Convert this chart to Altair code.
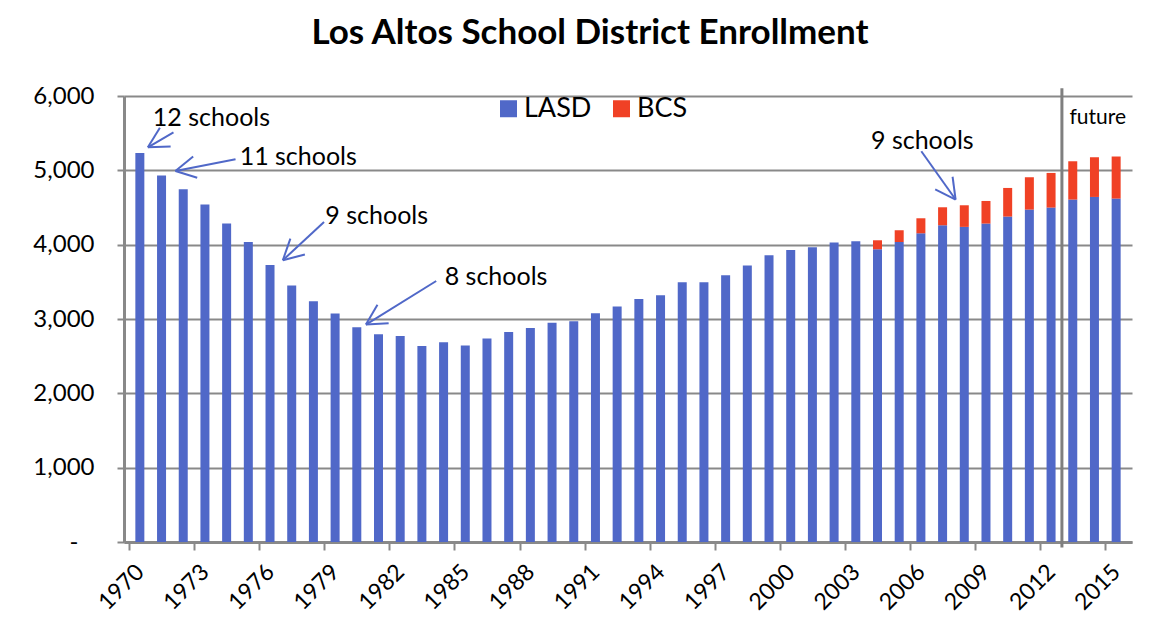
import math
import altair as alt
import pandas as pd

# ---------------- data ----------------
years = list(range(1970, 2016))
lasd = [5234, 4930, 4746, 4540, 4284, 4036, 3727, 3449, 3238, 3073, 2888, 2794,
        2771, 2637, 2686, 2642, 2736, 2825, 2879, 2951, 2969, 3077, 3167, 3269,
        3319, 3494, 3494, 3588, 3719, 3857, 3929, 3965, 4028, 4046, 3938, 4036,
        4153, 4261, 4239, 4284, 4378, 4472, 4499, 4607, 4642, 4620]
bcs_years = [2004, 2005, 2006, 2007, 2008, 2009, 2010, 2011, 2012, 2013, 2014, 2015]
bcs = [121, 158, 202, 242, 291, 304, 385, 435, 466, 515, 534, 566]

label_years = [1970, 1973, 1976, 1979, 1982, 1985, 1988, 1991, 1994, 1997,
               2000, 2003, 2006, 2009, 2012, 2015]
y_ticks = [0, 1000, 2000, 3000, 4000, 5000, 6000]

# annotations (year, enrollment units)
ann_text = ["12 schools", "11 schools", "9 schools", "8 schools", "9 schools"]
ann_x = [1970.6, 1974.6, 1978.55, 1984.05, 2003.7]
ann_y = [5701, 5176, 4382, 3561, 5392]
arrow_tail_x = [1971.55, 1974.41, 1978.49, 1983.66, 2006.02]
arrow_tail_y = [5512, 5149, 4306, 3511, 5257]
arrow_tip_x = [1970.37, 1971.64, 1976.59, 1980.42, 2007.60]
arrow_tip_y = [5310, 4992, 3790, 2925, 4607]

future_x = 2012.5
future_top, future_bottom = 6105, -73

# ---------------- style ----------------
W, H = 1008, 446
BLUE = "#5068C8"
RED = "#F04125"
GRID = "#898989"
FONT = "Lato"
x_dom = [1969.5, 2015.5]
y_dom = [0, 6000]
px_per_year = W / (x_dom[1] - x_dom[0])
px_per_unit = H / (y_dom[1] - y_dom[0])

rows = [{"year": y, "series": "LASD", "value": v, "ord": 0} for y, v in zip(years, lasd)]
rows += [{"year": y, "series": "BCS", "value": v, "ord": 1} for y, v in zip(bcs_years, bcs)]
df = pd.DataFrame(rows)

# arrow segments: shaft + two wings
segs = []
wing_len, wing_ang = 23.0, math.radians(28)
for tx, ty, hx, hy in zip(arrow_tail_x, arrow_tail_y, arrow_tip_x, arrow_tip_y):
    segs.append({"x": tx, "y": ty, "x2": hx, "y2": hy})
    dx = (tx - hx) * px_per_year
    dy = -(ty - hy) * px_per_unit
    a = math.atan2(dy, dx)
    for s in (-1, 1):
        wx = wing_len * math.cos(a + s * wing_ang)
        wy = wing_len * math.sin(a + s * wing_ang)
        segs.append({"x": hx, "y": hy,
                     "x2": hx + wx / px_per_year,
                     "y2": hy - wy / px_per_unit})
seg_df = pd.DataFrame(segs)
ann_df = pd.DataFrame({"x": ann_x, "y": ann_y, "t": ann_text})
fut_df = pd.DataFrame({"x": [future_x], "y": [future_top], "y2": [future_bottom]})
futlab_df = pd.DataFrame({"x": [2012.85], "y": [5701], "t": ["future"]})

x_scale = alt.Scale(domain=x_dom, nice=False, zero=False)
y_scale = alt.Scale(domain=y_dom, nice=False)

x_axis = alt.Axis(
    values=[y - 0.5 for y in label_years],
    labelExpr="format(datum.value + 0.5, 'd')",
    labelOffset=px_per_year / 2,
    labelAngle=-45, labelAlign="right", labelBaseline="middle",
    labelFont=FONT, labelFontSize=23, labelColor="black",
    labelPadding=18, labelFlush=False, labelOverlap=False, labelBound=False,
    tickSize=8, tickWidth=2, tickColor=GRID,
    domainColor=GRID, domainWidth=3, grid=False, title=None,
)
y_axis = alt.Axis(
    values=y_ticks,
    labelExpr="datum.value == 0 ? '-' : format(datum.value, ',d')",
    labelFont=FONT, labelFontSize=24, labelColor="black",
    labelPadding={"condition": {"test": "datum.value == 0", "value": 39}, "value": 23},
    tickSize=7, tickWidth=2, tickColor=GRID,
    domainColor=GRID, domainWidth=3,
    grid=True, gridColor=GRID, gridWidth=2, title=None,
)

bars = alt.Chart(df).mark_bar(size=9, orient="vertical").encode(
    x=alt.X("year:Q", scale=x_scale, axis=x_axis),
    y=alt.Y("value:Q", scale=y_scale, axis=y_axis, stack="zero"),
    color=alt.Color("series:N",
                    scale=alt.Scale(domain=["LASD", "BCS"], range=[BLUE, RED]),
                    legend=alt.Legend(orient="none", legendX=371, legendY=-1,
                                      direction="horizontal", title=None,
                                      symbolType="square", symbolSize=289,
                                      symbolStrokeWidth=0,
                                      labelFont=FONT, labelFontSize=27,
                                      labelColor="black",
                                      columnPadding=16, labelOffset=2)),
    order=alt.Order("ord:Q"),
)

future_rule = alt.Chart(fut_df).mark_rule(color="#7f7f7f", strokeWidth=3).encode(
    x="x:Q", y="y:Q", y2="y2:Q")

arrows = alt.Chart(seg_df).mark_rule(color=BLUE, strokeWidth=2).encode(
    x="x:Q", y="y:Q", x2="x2:Q", y2="y2:Q")

texts = alt.Chart(ann_df).mark_text(align="left", baseline="middle", font=FONT,
                                    fontSize=25, color="black").encode(
    x="x:Q", y="y:Q", text="t:N")

futlab = alt.Chart(futlab_df).mark_text(align="left", baseline="middle", font=FONT,
                                        fontSize=21, color="black").encode(
    x="x:Q", y="y:Q", text="t:N")

chart = alt.layer(bars, future_rule, arrows, texts, futlab).properties(
    width=W, height=H,
    title=alt.TitleParams("Los Altos School District Enrollment", font=FONT,
                          fontSize=35, fontWeight="bold", color="black",
                          anchor="middle", dx=-38, offset=5,
                          baseline="alphabetic"),
    autosize=alt.AutoSizeParams(type="none"),
    padding={"left": 116, "top": 88, "right": 20, "bottom": 76},
).configure_view(stroke=None)

chart.save("out.html", embed_options={"renderer": "svg", "actions": False})
